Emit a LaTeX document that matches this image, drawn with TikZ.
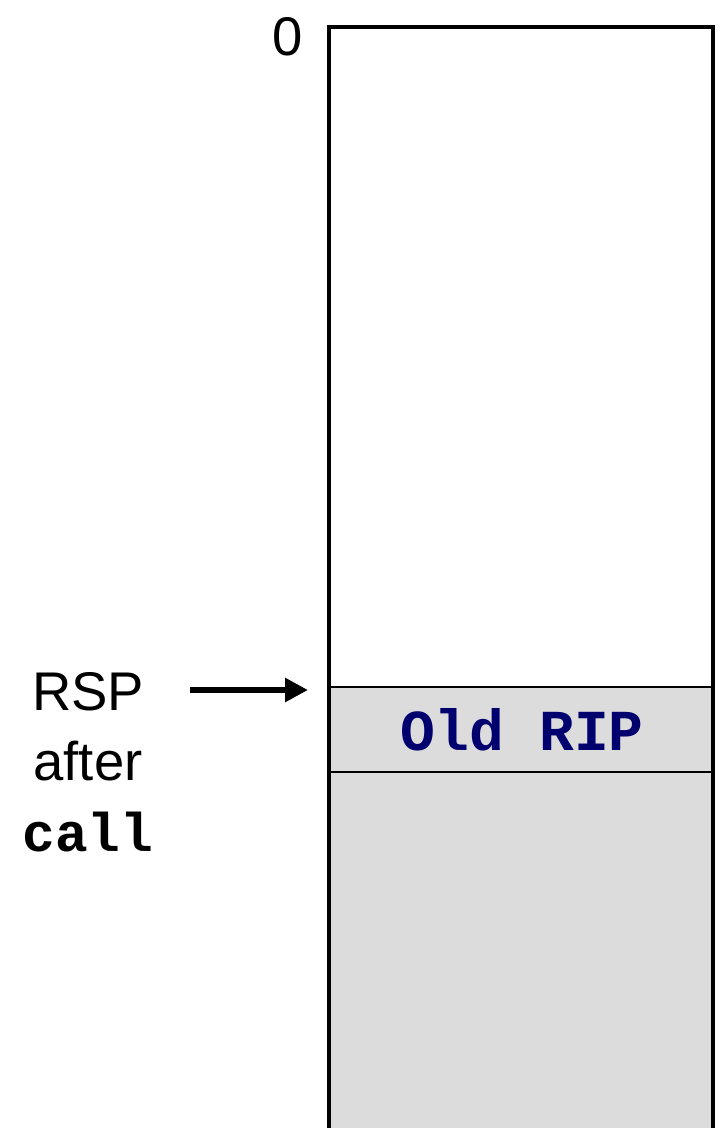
\documentclass[tikz,border=0pt]{standalone}
\usepackage{fontspec}
\setmainfont{Liberation Sans}
\setmonofont{Liberation Mono}
\usetikzlibrary{arrows.meta}
\definecolor{slotgray}{RGB}{220,220,220}
\definecolor{ripblue}{RGB}{0,0,110}

\begin{document}
\begin{tikzpicture}[x=0.02cm, y=-0.02cm,
  big/.style={font=\fontsize{31}{40}\selectfont},
  frame/.style={line width=2.8pt},
  slotline/.style={line width=1.1pt}]

\useasboundingbox (0,0) rectangle (721,1128);

% stack area
\fill[slotgray] (329,686) rectangle (713,1140);
\node[slotline, draw, minimum width=384*0.02cm, minimum height=85*0.02cm,
      inner sep=0pt, anchor=north west,
      font=\fontsize{33}{38}\selectfont\ttfamily\bfseries, text=ripblue] (rip) at (329,686) {Old RIP};
\draw[frame] (329,1140) -- (329,27) -- (713,27) -- (713,1140);

\node[big] (zero) at (288,37) {0};
\node[big, align=center] (rsp) at (88,762) {RSP\\after\\\texttt{\bfseries call}};
\coordinate (sp) at (308,690);

\draw[line width=3.4pt, -{Triangle[length=13pt,width=13pt]}] (190,690) -- (sp);

\end{tikzpicture}
\end{document}
